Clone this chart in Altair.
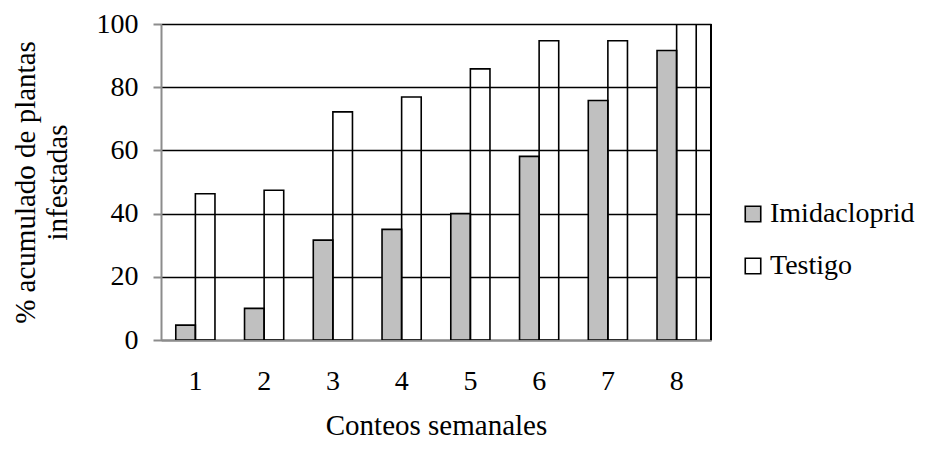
import altair as alt
import pandas as pd

conteos = ["1", "2", "3", "4", "5", "6", "7", "8"]
imidacloprid = [4.7, 10.0, 31.6, 35.0, 40.0, 58.1, 75.8, 91.6]
testigo = [46.3, 47.4, 72.2, 76.9, 85.8, 94.7, 94.7, 100.0]
series = ["Imidacloprid", "Testigo"]

rows = []
for c, a, b in zip(conteos, imidacloprid, testigo):
    rows.append({"Conteo": c, "Serie": series[0], "Valor": a})
    rows.append({"Conteo": c, "Serie": series[1], "Valor": b})
df = pd.DataFrame(rows)

FONT = "Liberation Serif"

bars = alt.Chart(df).mark_bar(stroke="black", strokeWidth=1.6, clip=True).encode(
    x=alt.X("Conteo:O", sort=conteos,
            scale=alt.Scale(paddingInner=0.43, paddingOuter=0.215),
            axis=alt.Axis(title="Conteos semanales", labelAngle=0, ticks=False,
                          labelPadding=27, titlePadding=16, domainColor="#8c8c8c",
                          domainWidth=2)),
    xOffset=alt.XOffset("Serie:N", sort=series),
    y=alt.Y("Valor:Q",
            scale=alt.Scale(domain=[0, 100], nice=False),
            axis=alt.Axis(title=["% acumulado de plantas", "infestadas"],
                          values=[0, 20, 40, 60, 80, 100], tickSize=8,
                          tickColor="#8c8c8c", tickWidth=2,
                          labelPadding=15, titlePadding=24,
                          domainColor="#8c8c8c", domainWidth=2,
                          grid=True, gridColor="black", gridWidth=1.6,
                          titleLineHeight=32)),
    fill=alt.Fill("Serie:N", sort=series,
                  scale=alt.Scale(domain=series, range=["#c0c0c0", "rgba(255,255,255,0)"]),
                  legend=alt.Legend(title=None, orient="none", legendX=578, legendY=176,
                                    symbolType="square", symbolSize=240,
                                    symbolStrokeColor="black", symbolStrokeWidth=1.6,
                                    rowPadding=24, labelOffset=3)),
)

border = alt.Chart(df).mark_rule(color="black", strokeWidth=1.6).encode(
    x=alt.value(550), y=alt.value(0), y2=alt.value(316)
)

chart = alt.layer(bars, border).properties(
    width=550, height=316,
    autosize=alt.AutoSizeParams(type="none"),
    padding={"left": 153, "top": 16, "right": 210, "bottom": 101},
).configure(font=FONT).configure_view(stroke=None).configure_axis(
    labelFont=FONT, titleFont=FONT, labelFontSize=28, titleFontSize=29,
    labelColor="black", titleColor="black", titleFontWeight="normal"
).configure_axisX(grid=False).configure_legend(
    labelFont=FONT, labelFontSize=28, labelColor="black"
)

chart.save("out.html", embed_options={"renderer": "svg", "actions": False})
